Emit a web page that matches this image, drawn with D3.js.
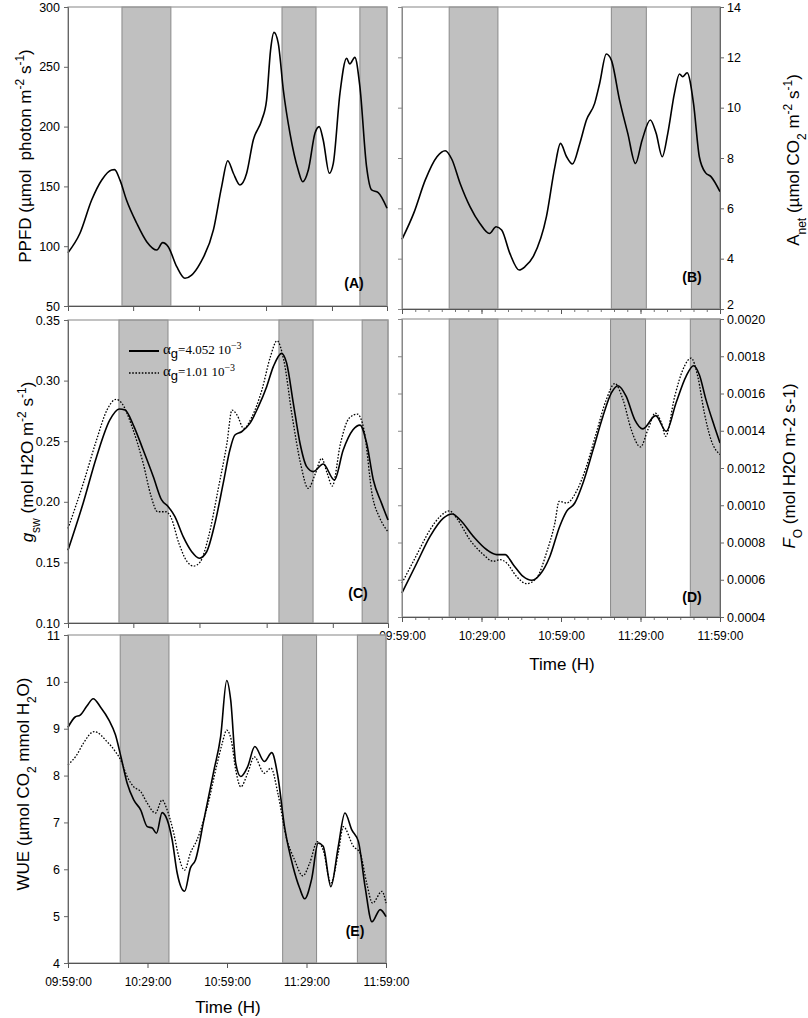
<!DOCTYPE html>
<html><head><meta charset="utf-8">
<script src="https://cdn.jsdelivr.net/npm/d3@7"></script>
<style>
body{margin:0;background:#fff;}
text{font-family:"Liberation Sans",Arial,sans-serif;fill:#000;}
</style>
</head><body>
<svg id="c" width="808" height="1018"></svg>
<script>
// ---------- DATA (time in minutes after 09:59:00) ----------
const timeLabels = ["09:59:00","10:29:00","10:59:00","11:29:00","11:59:00"];
const timeTicks = [0,30,60,90,120];
const timeTicksAC = [24.5,49.3,74.5,99.3];

const ppfd = [[0,94.6],[4.5,110.8],[8.9,138.6],[12.7,155.4],[16.4,163.7],[17.5,164],[19.6,155],[22,138.6],[25.8,119.4],[29.6,103.8],[33.4,96.8],[35.6,103],[37.7,99.6],[40.9,82.9],[44,73.2],[46.5,75.9],[49.7,85.7],[54.7,113.6],[57.8,149.8],[60.1,171.5],[62.2,161],[64.7,151.2],[67.2,161],[69.7,188.8],[72.9,205.5],[74.7,222.2],[76.2,264],[77.5,278.8],[79.1,269.6],[81,230.6],[83.5,194.4],[86.6,163.7],[88.3,153.9],[90.4,163.7],[92.9,194.4],[94.5,200],[96,188.8],[98.3,161],[99.8,169.3],[102.3,227.8],[104.8,257.1],[106,252.3],[107.9,257.9],[109.8,233.4],[112.3,166.7],[114.2,147],[116.7,144.8],[120,131.7]];

const anet = [[0,4.77],[4.4,5.8],[8.8,7.13],[13.2,8.05],[16.3,8.29],[18.8,7.95],[21.9,7.0],[25.7,6.06],[29.4,5.4],[33,5.0],[35.5,5.27],[37.6,5.14],[40.7,4.21],[44.2,3.55],[46.4,3.68],[49.5,4.08],[54.5,5.67],[57.7,7.66],[59.8,8.58],[62.1,8.05],[64.3,7.76],[67.1,8.58],[69.6,9.51],[72.7,10.17],[74.6,10.97],[77.1,12.13],[79,11.89],[82.1,10.3],[85.2,8.98],[88.1,7.78],[90.6,8.71],[93.7,9.51],[95.9,8.98],[98.2,8.05],[100.3,8.98],[102.8,10.57],[104.7,11.34],[105.9,11.23],[107.6,11.39],[110,10.17],[112.2,8.05],[114.5,7.42],[116.6,7.26],[120,6.66]];

const gswHigh = [[0,0.160],[5.7,0.199],[10.7,0.237],[15.7,0.2675],[19.2,0.2766],[21.4,0.2757],[24.5,0.2633],[28.2,0.2427],[32,0.2207],[35.1,0.2015],[37.6,0.196],[40.1,0.1877],[43.2,0.1712],[46.4,0.1588],[49.2,0.1534],[52,0.1588],[55.1,0.1822],[58.2,0.2152],[60.7,0.2427],[62.6,0.2551],[65.1,0.2578],[68.2,0.2647],[71.4,0.2785],[74.5,0.295],[77,0.3115],[80.1,0.3225],[82,0.3143],[84.5,0.2813],[87,0.2483],[89.5,0.229],[92,0.2249],[95.7,0.2312],[99.9,0.218],[103.2,0.2427],[106.8,0.2592],[109.5,0.2633],[112,0.2483],[114.5,0.218],[117.6,0.1987],[120,0.185]];
const gswLow = [[0,0.178],[5.7,0.215],[10.7,0.251],[14.6,0.2757],[18,0.2845],[20.2,0.2813],[24,0.262],[28.2,0.2317],[31.2,0.2042],[33.6,0.1918],[36.7,0.1918],[38.5,0.1877],[41.6,0.1657],[44.7,0.1505],[47.1,0.147],[49.6,0.1505],[52.7,0.1712],[56.5,0.2125],[59.6,0.2483],[61.5,0.2757],[63.4,0.2716],[65.9,0.2606],[69,0.2702],[72.7,0.2922],[75.9,0.3197],[78.4,0.3329],[80.9,0.317],[84.1,0.2702],[87.2,0.2317],[90.1,0.211],[92.8,0.2235],[95.1,0.2359],[97.2,0.2235],[99.1,0.213],[102.2,0.2483],[105.4,0.2689],[108.5,0.2724],[111,0.2592],[114.2,0.2042],[116.7,0.1877],[120,0.1753]];

const foHigh = [[0,0.00053],[5.6,0.00069],[10.6,0.000833],[15.6,0.000931],[19,0.000953],[21.9,0.000922],[26.9,0.000833],[32,0.000761],[35.7,0.000735],[38.9,0.000735],[42,0.000681],[45.7,0.000618],[48.9,0.000597],[52,0.000627],[55.8,0.000725],[59.5,0.000886],[62.1,0.000967],[65.2,0.001012],[68.3,0.00112],[72.1,0.001298],[75.8,0.001477],[79,0.001603],[81.5,0.001642],[84.6,0.001584],[87.8,0.00146],[90.9,0.00141],[95.7,0.001481],[99.7,0.001397],[103.4,0.001549],[107.2,0.001692],[110,0.001749],[112.2,0.001701],[114.7,0.001567],[117.9,0.001423],[120,0.001334]];
const foLow = [[0,0.000582],[5.6,0.000735],[10.6,0.000869],[14.4,0.00094],[17.9,0.00097],[20.6,0.000931],[25.6,0.000815],[30.7,0.000735],[34.4,0.000699],[37,0.000708],[39.5,0.00069],[43.2,0.000618],[47,0.000579],[50.8,0.000609],[54.5,0.000744],[57.7,0.000905],[59.3,0.001021],[62.1,0.001012],[65.8,0.001074],[69.6,0.001209],[73.3,0.001388],[77.1,0.001567],[80.3,0.001653],[83.4,0.001567],[86.5,0.001406],[90,0.001313],[92.8,0.001406],[95.6,0.001495],[97.9,0.001442],[99.5,0.00137],[102.9,0.001584],[106,0.001728],[109.1,0.00179],[111.6,0.001692],[114.1,0.001495],[116.6,0.001352],[120,0.001272]];

const wueHigh = [[0,9.03],[2.7,9.25],[4.6,9.29],[7.2,9.49],[9.5,9.64],[12.3,9.46],[15.4,9.19],[17.9,8.87],[20.1,8.37],[22.3,7.84],[24.8,7.48],[27.4,7.27],[29.9,6.91],[31.8,6.88],[33.4,6.77],[35.5,7.21],[37.4,7.06],[39.3,6.63],[41.2,5.92],[44,5.53],[46.2,6.03],[48.1,6.2],[51.3,7.06],[55.1,8.12],[57.6,8.83],[59.9,10.03],[61.4,9.61],[63.3,8.26],[65.2,7.98],[67.8,8.19],[70.5,8.62],[74.1,8.3],[76.9,8.49],[79.2,7.98],[81.7,6.91],[84.9,6.06],[87.4,5.6],[89.3,5.37],[91.9,5.78],[94.4,6.56],[96.3,6.49],[99.2,5.63],[102,6.49],[104.5,7.2],[107.1,6.84],[109.6,6.59],[112.1,5.63],[114.7,4.88],[117.8,5.14],[120,4.99]];
const wueLow = [[0,8.23],[3.3,8.44],[5.8,8.69],[9.9,8.94],[14.8,8.72],[17.9,8.51],[19.9,8.33],[22.3,7.98],[24.8,7.76],[27.4,7.66],[29.9,7.41],[33,7.2],[35.5,7.48],[37.4,7.27],[39.9,6.77],[41.8,6.27],[44,5.98],[46.2,6.35],[48.7,6.63],[52.6,7.34],[56.3,8.26],[58.2,8.69],[59.9,8.97],[61.6,8.76],[63.3,8.12],[65.2,7.76],[67.8,8.05],[70.3,8.4],[74.1,8.05],[76.6,8.16],[79.2,7.62],[82.3,6.7],[85.5,6.2],[88.6,5.86],[91.2,6.13],[94.1,6.59],[96.3,6.41],[99.2,5.71],[102,6.35],[103.9,6.91],[107.7,6.49],[110.2,6.35],[112.7,5.71],[114.9,5.28],[118.5,5.53],[120,5.28]];

// shaded periods (minutes) per panel
const bandsA = [[20.3,38.7],[80.5,93.3],[109.8,120]];
const bandsB = [[17.8,36.2],[79.0,92.2],[109.2,120]];
const bandsC = [[19.1,37.5],[79.1,91.9],[110.3,120]];
const bandsD = [[17.8,36.2],[78.7,91.9],[108.8,120]];
const bandsE = [[19.7,38.1],[81.0,93.8],[109.2,120]];

const legendLabels = ["4.052", "1.01"];

// ---------- DRAW ----------
const svg = d3.select("#c");

function drawPanel(o){
  const g = svg.append("g");
  const x = d3.scaleLinear().domain([0,120]).range([o.x0,o.x1]);
  const y = d3.scaleLinear().domain(o.yDomain).range([o.y1,o.y0]);
  g.selectAll("rect.band").data(o.bands).enter().append("rect")
    .attr("x",d=>x(d[0])).attr("width",d=>x(d[1])-x(d[0]))
    .attr("y",y(o.yDomain[1])).attr("height",y(o.yDomain[0])-y(o.yDomain[1]))
    .attr("fill","#c0c0c0").attr("stroke","#8a8a8a").attr("stroke-width",1);
  g.append("rect").attr("x",o.x0).attr("y",o.y0).attr("width",o.x1-o.x0).attr("height",o.y1-o.y0)
    .attr("fill","none").attr("stroke","#9a9a9a").attr("stroke-width",1.2);
  const line = d3.line().x(d=>x(d[0])).y(d=>y(d[1])).curve(d3.curveMonotoneX);
  o.series.forEach(s=>{
    g.append("path").datum(s.data).attr("d",line).attr("fill","none")
      .attr("stroke","#000").attr("stroke-width",s.dash?1.3:1.6)
      .attr("stroke-dasharray",s.dash?"1.6,1.6":null);
  });
  const ya = (o.right? d3.axisRight(y) : d3.axisLeft(y)).tickValues(o.yTicks).tickFormat(o.yFmt)
      .tickSize(4).tickPadding(o.right?3:4);
  const yg = g.append("g").attr("transform",`translate(${o.right?o.x1:o.x0},0)`).call(ya);
  yg.selectAll("text").style("font-size","12.5px");
  yg.select(".domain").attr("stroke","#666");
  yg.selectAll(".tick line").attr("stroke","#666");
  if(o.lowShift){
    yg.selectAll(".tick text").filter(d=>d===o.yDomain[0]).attr("dy","-0.05em");
  }
  if(o.right){
    const yl = d3.axisLeft(y).tickValues(o.yTicks).tickFormat("").tickSize(4);
    const ylg = g.append("g").attr("transform",`translate(${o.x0},0)`).call(yl);
    ylg.select(".domain").attr("stroke","#888"); ylg.selectAll(".tick line").attr("stroke","#888");
  }
  if(o.minor){
    const xm = d3.axisBottom(x).tickValues(d3.range(0,121,5)).tickFormat("").tickSize(3);
    const xmg = g.append("g").attr("transform",`translate(0,${o.y1})`).call(xm);
    xmg.select(".domain").remove(); xmg.selectAll(".tick line").attr("stroke","#777");
  }
  const xa = d3.axisBottom(x).tickValues(o.xTicks).tickSize(5).tickPadding(9)
      .tickFormat(o.xLabels ? (d,i)=>o.xLabels[i] : "");
  const xg = g.append("g").attr("transform",`translate(0,${o.y1})`).call(xa);
  xg.selectAll("text").style("font-size","12px");
  xg.select(".domain").attr("stroke","#555");
  xg.selectAll(".tick line").attr("stroke","#555");
  g.append("text").attr("x",o.tag[1]).attr("y",o.tag[2]).attr("text-anchor","middle")
    .style("font-size","14px").style("font-weight","bold").text(o.tag[0]);
  return {x,y,g};
}

function title(tx,ty,parts){
  const t = svg.append("text").attr("transform",`translate(${tx},${ty}) rotate(-90)`)
    .attr("text-anchor","middle").style("font-size","17px").style("white-space","pre");
  parts.forEach(p=>{
    const s = t.append("tspan").text(p.t);
    if(p.sup) s.attr("baseline-shift","super").style("font-size","12px");
    if(p.sub) s.attr("baseline-shift","sub").style("font-size","12px");
    if(p.it) s.style("font-style","italic");
  });
}

drawPanel({x0:68,x1:387,y0:7,y1:306,yDomain:[50,300],yTicks:[50,100,150,200,250,300],yFmt:d3.format("d"),
  bands:bandsA,series:[{data:ppfd}],xTicks:timeTicksAC,tag:["(A)",354,288]});
drawPanel({x0:402,x1:720,y0:7,y1:309,yDomain:[2,14],yTicks:[2,4,6,8,10,12,14],yFmt:d3.format("d"),right:true,minor:true,lowShift:true,
  bands:bandsB,series:[{data:anet}],xTicks:timeTicks,tag:["(B)",692,282]});
drawPanel({x0:68,x1:388,y0:320,y1:623,yDomain:[0.10,0.35],yTicks:[0.10,0.15,0.20,0.25,0.30,0.35],yFmt:d3.format(".2f"),
  bands:bandsC,series:[{data:gswHigh},{data:gswLow,dash:true}],xTicks:timeTicksAC,tag:["(C)",358,598]});
drawPanel({x0:402,x1:720,y0:319,y1:617,yDomain:[0.0004,0.0020],yTicks:[0.0004,0.0006,0.0008,0.0010,0.0012,0.0014,0.0016,0.0018,0.0020],yFmt:d3.format(".4f"),right:true,minor:true,
  bands:bandsD,series:[{data:foHigh},{data:foLow,dash:true}],xTicks:timeTicks,xLabels:timeLabels,tag:["(D)",692,602]});
drawPanel({x0:68,x1:386,y0:635,y1:963,yDomain:[4,11],yTicks:[4,5,6,7,8,9,10,11],yFmt:d3.format("d"),
  bands:bandsE,series:[{data:wueHigh},{data:wueLow,dash:true}],xTicks:timeTicks,xLabels:timeLabels,tag:["(E)",355,936]});

title(31,156,[{t:"PPFD (µmol  photon m"},{t:"-2",sup:true},{t:" s"},{t:"-1",sup:true},{t:")"}]);
title(799,160,[{t:"A"},{t:"net",sub:true},{t:" (µmol CO"},{t:"2",sub:true},{t:" m"},{t:"-2",sup:true},{t:" s"},{t:"-1",sup:true},{t:")"}]);
title(33,462,[{t:"g",it:true},{t:"sw",sub:true},{t:" (mol H2O m"},{t:"-2",sup:true},{t:" s"},{t:"-1",sup:true},{t:")"}]);
title(795,466,[{t:"F",it:true},{t:"O",sub:true},{t:" (mol H2O m-2 s-1)"}]);
title(29,784,[{t:"WUE (µmol CO"},{t:"2",sub:true},{t:" mmol H"},{t:"2",sub:true},{t:"O)"}]);

svg.append("text").attr("x",562).attr("y",670).attr("text-anchor","middle").style("font-size","17px").text("Time (H)");
svg.append("text").attr("x",228).attr("y",1013).attr("text-anchor","middle").style("font-size","17px").text("Time (H)");

const serif = "Liberation Serif, Times New Roman, serif";
const leg = svg.append("g");
legendLabels.forEach((lab,i)=>{
  const yy = 351 + i*22;
  leg.append("line").attr("x1",129).attr("x2",159).attr("y1",yy).attr("y2",yy)
    .attr("stroke","#000").attr("stroke-width",i?1.3:2).attr("stroke-dasharray",i?"1.6,1.6":null);
  const t = leg.append("text").attr("x",163).attr("y",yy+3).style("font-size","14px");
  t.append("tspan").text("α").style("font-family",serif).style("font-size","15px");
  t.append("tspan").text("g").attr("dy","4").style("font-size","13px");
  t.append("tspan").text("="+lab+" 10").attr("dy","-4").style("font-family",serif).style("font-size","13px");
  t.append("tspan").text("−3").attr("dy","-5").style("font-size","10px").style("font-family",serif);
});
</script>
</body></html>
